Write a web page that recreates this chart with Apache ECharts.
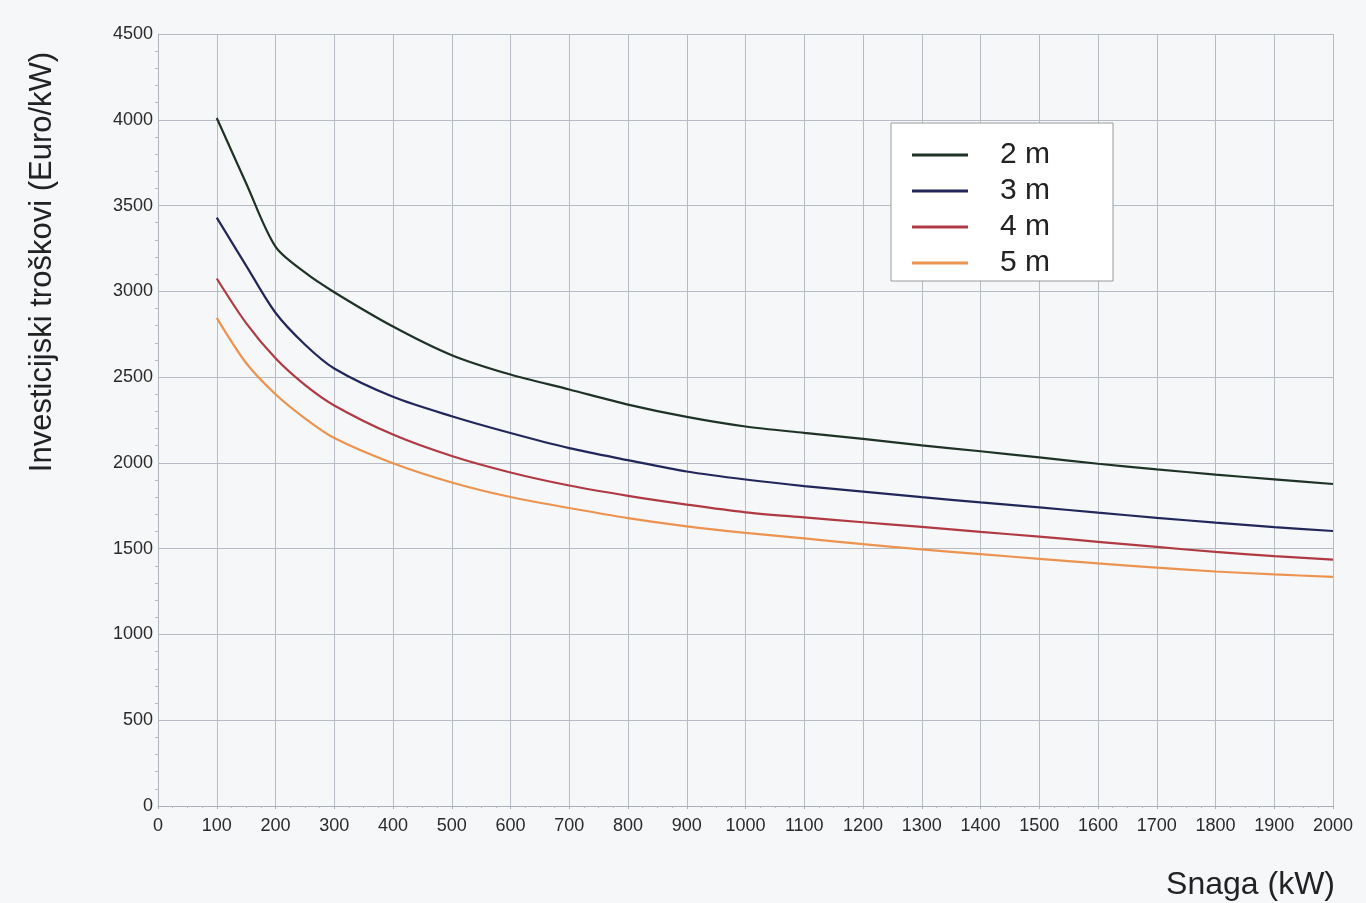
<!DOCTYPE html>
<html>
<head>
<meta charset="utf-8">
<script src="https://cdn.jsdelivr.net/npm/echarts@6/dist/echarts.min.js"></script>
<style>
html,body{margin:0;padding:0;background:#f6f7f9;}
#c{width:1366px;height:903px;}
</style>
</head>
<body>
<div id="c"></div>
<script>
// Power (kW)
const powerKW = [100,150,200,250,300,400,500,600,700,800,900,1000,1100,1200,1300,1400,1500,1600,1700,1800,1900,2000];
// Investment costs (Euro/kW) per head
const head2m = [4010,3630,3260,3110,2995,2795,2628,2515,2428,2340,2268,2212,2175,2140,2102,2068,2032,1995,1962,1932,1904,1877];
const head3m = [3430,3150,2875,2690,2550,2385,2272,2174,2086,2016,1950,1903,1865,1833,1800,1770,1741,1710,1680,1652,1626,1603];
const head4m = [3075,2815,2610,2455,2335,2165,2040,1944,1868,1808,1757,1712,1682,1654,1627,1598,1570,1540,1510,1481,1457,1436];
const head5m = [2845,2582,2400,2260,2145,1998,1886,1801,1737,1678,1630,1592,1560,1526,1496,1468,1441,1414,1389,1367,1350,1336];
const seriesNames = ['2 m','3 m','4 m','5 m'];
const seriesColors = ['#1e3326','#22275a','#b03a44','#ec9350'];
const yTitle = 'Investicijski troškovi (Euro/kW)';
const xTitle = 'Snaga (kW)';

const allSeries = [head2m, head3m, head4m, head5m];
const chart = echarts.init(document.getElementById('c'));
const font = 'Liberation Sans, Arial, sans-serif';
const plain = v => String(v);

chart.setOption({
  backgroundColor: '#f6f7f9',
  animation: false,
  grid: {left: 158, right: 33, top: 34, bottom: 97},
  legend: {
    orient: 'vertical',
    left: 891, top: 123,
    padding: [17, 63, 3, 21],
    backgroundColor: '#ffffff',
    borderColor: '#9a9a9a',
    borderWidth: 1,
    itemWidth: 56, itemHeight: 14, itemGap: 6,
    icon: 'path://M0,6 L56,6 L56,9 L0,9 Z',
    textStyle: {fontSize: 30, fontFamily: font, color: '#222', padding: [0,0,0,27]},
    data: seriesNames
  },
  xAxis: {
    type: 'value', min: 0, max: 2000, interval: 100,
    axisLine: {show: true, lineStyle: {color: '#a9adb5', width: 1}},
    axisTick: {show: true, length: 3, lineStyle: {color: '#a9adb5'}},
    minorTick: {show: true, splitNumber: 4, length: 2, lineStyle: {color: '#b5b9c0'}},
    axisLabel: {fontSize: 18, fontFamily: font, color: '#2a2a2a', margin: 11, formatter: plain},
    splitLine: {show: true, lineStyle: {color: '#b7bbc3', width: 1}}
  },
  yAxis: {
    type: 'value', min: 0, max: 4500, interval: 500,
    axisLine: {show: true, lineStyle: {color: '#b0b4bb', width: 1}},
    axisTick: {show: false},
    minorTick: {show: true, splitNumber: 5, length: 3, lineStyle: {color: '#b5b9c0'}},
    axisLabel: {fontSize: 18, fontFamily: font, color: '#2a2a2a', margin: 5, formatter: plain},
    splitLine: {show: true, lineStyle: {color: '#b7bbc3', width: 1}}
  },
  graphic: [
    {type: 'text', x: 42, y: 262, rotation: Math.PI/2,
     style: {text: yTitle, fontSize: 31, fontFamily: font, fill: '#222', align: 'center', verticalAlign: 'middle'}},
    {type: 'text', x: 1335, y: 885,
     style: {text: xTitle, fontSize: 32, fontFamily: font, fill: '#222', align: 'right', verticalAlign: 'middle'}}
  ],
  series: allSeries.map((vals, i) => ({
    name: seriesNames[i],
    type: 'line',
    smooth: 0.3,
    symbol: 'none',
    lineStyle: {color: seriesColors[i], width: 2.2},
    itemStyle: {color: seriesColors[i]},
    data: powerKW.map((x, j) => [x, vals[j]])
  }))
});
</script>
</body>
</html>
